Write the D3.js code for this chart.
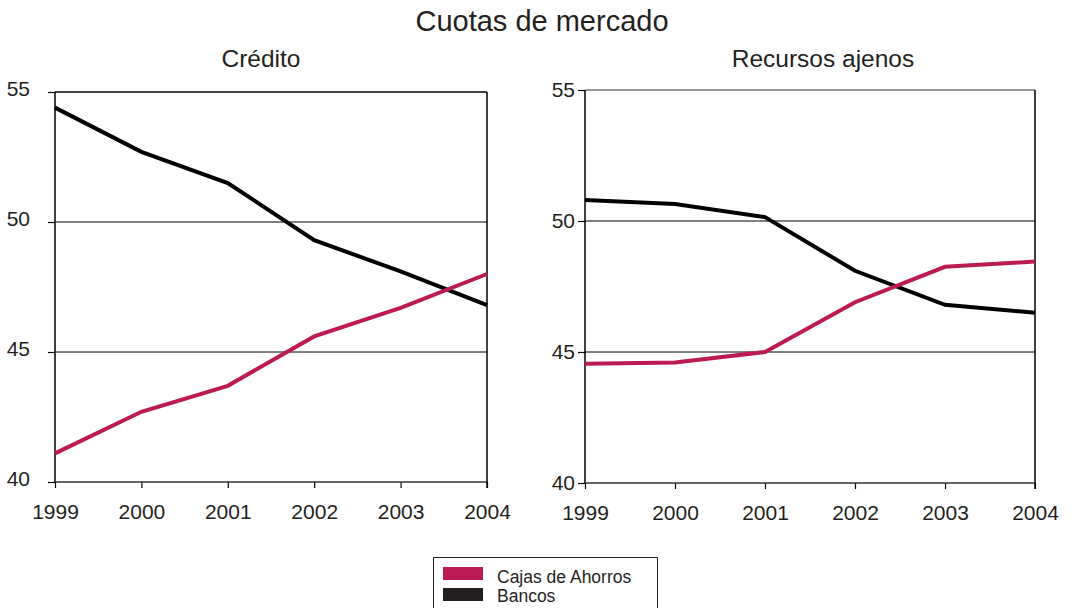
<!DOCTYPE html>
<html>
<head>
<meta charset="utf-8">
<script src="https://cdn.jsdelivr.net/npm/d3@7"></script>
<style>
  body { margin: 0; background: #fff; }
  svg { font-family: "Liberation Sans", Arial, sans-serif; }
</style>
</head>
<body>
<div id="chart"></div>
<script>
var years = [1999, 2000, 2001, 2002, 2003, 2004];
var yTicks = [40, 45, 50, 55];

// Crédito
var creditoCajas = [41.1, 42.7, 43.7, 45.6, 46.7, 48.0];
var creditoBancos = [54.4, 52.7, 51.5, 49.3, 48.1, 46.8];

// Recursos ajenos
var recursosCajas = [44.55, 44.6, 45.0, 46.9, 48.25, 48.45];
var recursosBancos = [50.8, 50.65, 50.15, 48.1, 46.8, 46.5];

var seriesNames = ["Cajas de Ahorros", "Bancos"];
var cajasColor = "#bc1a55";
var bancosColor = "#000000";

var svg = d3.select("#chart")
  .append("svg")
  .attr("width", 1074)
  .attr("height", 608);

svg.append("text")
  .attr("x", 542)
  .attr("y", 31)
  .attr("text-anchor", "middle")
  .style("font-size", "29px")
  .style("fill", "#231f20")
  .text("Cuotas de mercado");

drawPanel("Crédito", 55, 487, 92, 482, creditoCajas, creditoBancos, "#000", 18, -4, 261);
drawPanel("Recursos ajenos", 585, 1035, 90, 483, recursosCajas, recursosBancos, "#777", 3, -1, 823);

function drawPanel(title, x0, x1, yTop, yBottom, cajas, bancos, topColor, labelPad, labelShift, titleX) {
  var x = d3.scaleLinear().domain([1999, 2004]).range([x0, x1]);
  var y = d3.scaleLinear().domain([40, 55]).range([yBottom, yTop]);
  var g = svg.append("g");

  g.append("text")
    .attr("x", titleX)
    .attr("y", 67)
    .attr("text-anchor", "middle")
    .style("font-size", "24.5px")
    .style("fill", "#231f20")
    .text(title);

  // gridlines at 45 and 50
  g.selectAll(".grid")
    .data([45, 50])
    .enter().append("line")
    .attr("x1", x0)
    .attr("x2", x1)
    .attr("y1", function(d) { return y(d); })
    .attr("y2", function(d) { return y(d); })
    .style("stroke", "#000")
    .style("stroke-width", 1);

  // top border at 55
  g.append("line")
    .attr("x1", x0).attr("x2", x1)
    .attr("y1", y(55)).attr("y2", y(55))
    .style("stroke", topColor)
    .style("stroke-width", 1.5);

  // right border
  g.append("line")
    .attr("x1", x1).attr("x2", x1)
    .attr("y1", y(55)).attr("y2", y(40) + 6)
    .style("stroke", "#000")
    .style("stroke-width", 1.5);

  var yAxis = d3.axisLeft(y)
    .tickValues(yTicks)
    .tickSize(7)
    .tickPadding(labelPad)
    .tickFormat(d3.format("d"));
  var ya = g.append("g")
    .attr("transform", "translate(" + x0 + ",0)")
    .call(yAxis);
  ya.select(".domain").remove();
  ya.append("line")
    .attr("x1", 0).attr("x2", 0)
    .attr("y1", y(55)).attr("y2", y(40))
    .style("stroke", "#000")
    .style("stroke-width", 1.5);
  ya.selectAll(".tick line").style("stroke-width", 1.2);
  ya.selectAll("text")
    .style("font-size", "21px")
    .style("fill", "#231f20")
    .attr("y", labelShift)
    .attr("dy", "0.35em");

  var xAxis = d3.axisBottom(x)
    .tickValues(years)
    .tickSize(6)
    .tickPadding(16)
    .tickFormat(d3.format("d"));
  var xa = g.append("g")
    .attr("transform", "translate(0," + y(40) + ")")
    .call(xAxis);
  xa.select(".domain").remove();
  xa.append("line")
    .attr("x1", x0).attr("x2", x1)
    .attr("y1", 0).attr("y2", 0)
    .style("stroke", "#333")
    .style("stroke-width", 1.5);
  xa.selectAll(".tick line").style("stroke-width", 1.2);
  xa.selectAll("text")
    .style("font-size", "21px")
    .style("fill", "#231f20");

  var line = d3.line()
    .x(function(d, i) { return x(years[i]); })
    .y(function(d) { return y(d); });

  g.append("path")
    .datum(bancos)
    .attr("d", line)
    .style("fill", "none")
    .style("stroke", bancosColor)
    .style("stroke-width", 4);

  g.append("path")
    .datum(cajas)
    .attr("d", line)
    .style("fill", "none")
    .style("stroke", cajasColor)
    .style("stroke-width", 4);
}

// legend
var legend = svg.append("g");
legend.append("rect")
  .attr("x", 433.5)
  .attr("y", 557.5)
  .attr("width", 224)
  .attr("height", 60)
  .style("fill", "#fff")
  .style("stroke", "#231f20")
  .style("stroke-width", 1);

var legendColors = [cajasColor, "#231f20"];
legend.selectAll(".sw")
  .data(seriesNames)
  .enter().append("rect")
  .attr("x", 443)
  .attr("y", function(d, i) { return 567 + i * 21; })
  .attr("width", 40)
  .attr("height", 13)
  .style("fill", function(d, i) { return legendColors[i]; });

legend.selectAll(".lt")
  .data(seriesNames)
  .enter().append("text")
  .attr("x", 497)
  .attr("y", function(d, i) { return 583 + i * 19; })
  .style("font-size", "17.5px")
  .style("fill", "#231f20")
  .text(function(d) { return d; });
</script>
</body>
</html>
